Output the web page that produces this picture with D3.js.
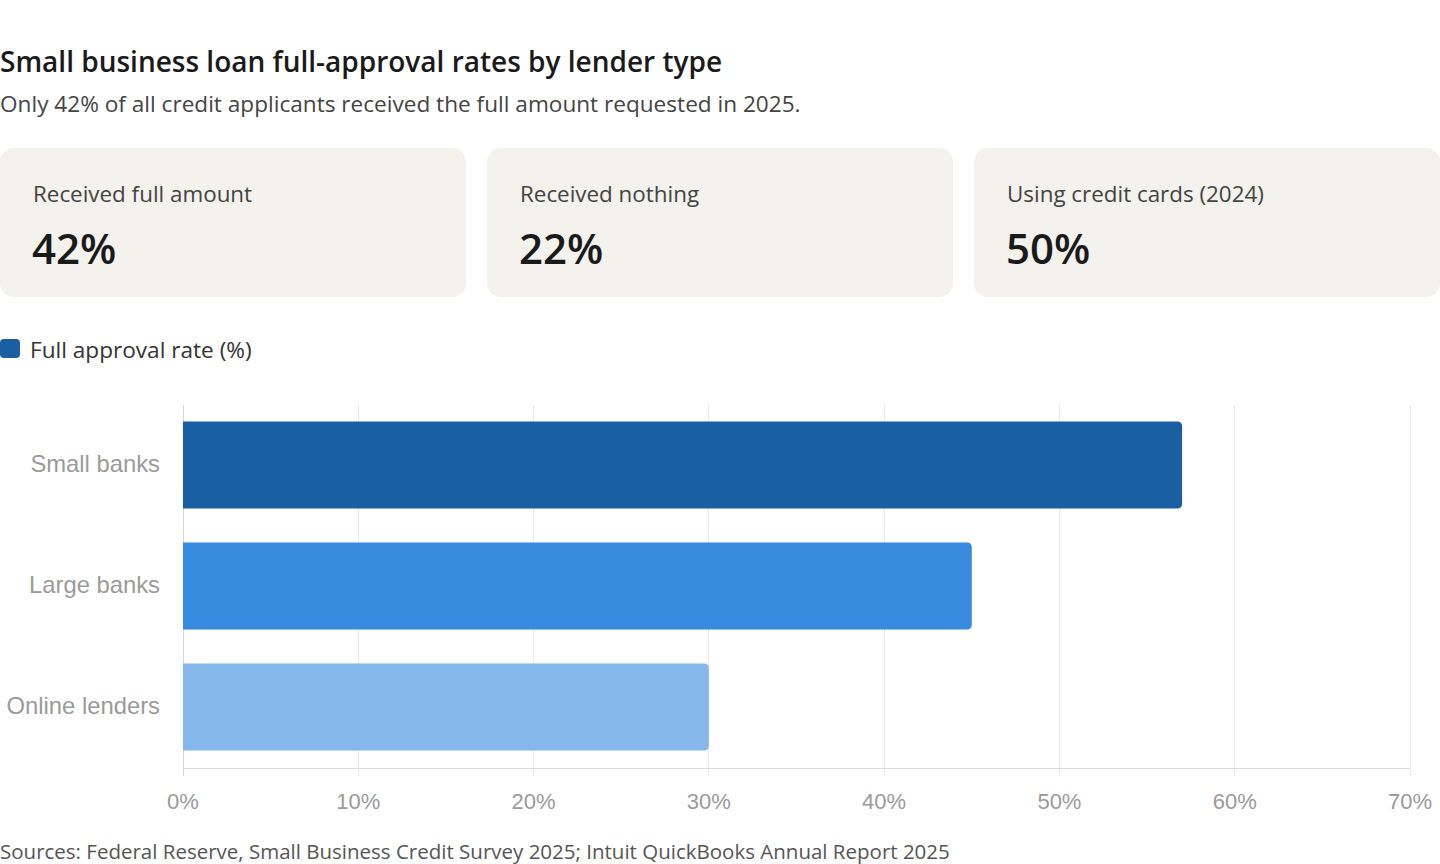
<!DOCTYPE html>
<html><head><meta charset="utf-8">
<script src="https://cdn.jsdelivr.net/npm/d3@7"></script>
<style>
html,body{margin:0;padding:0;background:#fff;}
svg{display:block;}
</style></head>
<body>
<svg id="chart" width="1440" height="864"></svg>
<script>
const categories = ["Small banks", "Large banks", "Online lenders"];
const values = [57, 45, 30];
const barColors = ["#1b5fa3", "#378ade", "#85b7eb"];
const xTicks = [0, 10, 20, 30, 40, 50, 60, 70];
const cardLabels = ["Received full amount", "Received nothing", "Using credit cards (2024)"];
const cardValues = ["42%", "22%", "50%"];
const title = "Small business loan full-approval rates by lender type";
const subtitle = "Only 42% of all credit applicants received the full amount requested in 2025.";
const legendLabel = "Full approval rate (%)";
const source = "Sources: Federal Reserve, Small Business Credit Survey 2025; Intuit QuickBooks Annual Report 2025";

const svg = d3.select("#chart");
const uiFont = "'Segoe UI','Open Sans','Noto Sans',sans-serif";
const axFont = "'Liberation Sans',Arial,sans-serif";

svg.append("text").attr("x", 0).attr("y", 72).text(title)
  .attr("font-family", uiFont).attr("font-size", 28).attr("font-weight", 600).attr("fill", "#1a1a1a");
svg.append("text").attr("x", 0).attr("y", 112).text(subtitle)
  .attr("font-family", uiFont).attr("font-size", 22.6).attr("fill", "#444");

// cards
const cw = 466, step = 487;
const cards = svg.selectAll("g.card").data(cardLabels).join("g")
  .attr("transform", (d, i) => `translate(${i * step},148)`);
cards.append("rect").attr("width", cw).attr("height", 149).attr("rx", 14)
  .attr("fill", "#f3f2ec");
cards.append("text").attr("x", 33).attr("y", 54).text(d => d)
  .attr("font-family", uiFont).attr("font-size", 22.4).attr("fill", "#444");
cards.append("text").attr("x", 32).attr("y", 116).text((d, i) => cardValues[i])
  .attr("font-family", uiFont).attr("font-size", 42).attr("font-weight", 600).attr("fill", "#1a1a1a");

// legend
svg.append("rect").attr("x", 0).attr("y", 339).attr("width", 20).attr("height", 19).attr("rx", 4)
  .attr("fill", barColors[0]);
svg.append("text").attr("x", 30).attr("y", 358).text(legendLabel)
  .attr("font-family", uiFont).attr("font-size", 22.6).attr("fill", "#333");

// chart
const x = d3.scaleLinear().domain([0, 70]).range([183, 1410]);
const y = d3.scaleBand().domain(categories).range([405, 768]).paddingInner(0.28).paddingOuter(0.14);

const grid = svg.append("g");
grid.selectAll("line").data(xTicks).join("line")
  .attr("x1", d => x(d)).attr("x2", d => x(d))
  .attr("y1", 405).attr("y2", 776)
  .attr("stroke", d => d === 0 ? "#d6d6d6" : "#e8e8e8").attr("stroke-width", 1)
  .attr("shape-rendering", "crispEdges");
svg.append("line").attr("x1", x(0)).attr("x2", x(70)).attr("y1", 768).attr("y2", 768)
  .attr("stroke", "#dcdcdc").attr("shape-rendering", "crispEdges");

svg.selectAll("text.xt").data(xTicks).join("text").attr("class", "xt")
  .attr("x", d => x(d)).attr("y", 809).attr("text-anchor", "middle")
  .text(d => d + "%")
  .attr("font-family", axFont).attr("font-size", 22).attr("fill", "#9a9a9a");

svg.selectAll("text.yt").data(categories).join("text").attr("class", "yt")
  .attr("x", 160).attr("y", d => y(d) + y.bandwidth() / 2 + 6.5).attr("text-anchor", "end")
  .text(d => d)
  .attr("font-family", axFont).attr("font-size", 23.8).attr("fill", "#9a9a9a");

// bars with rounded right end
const r = 5;
function barPath(x0, x1, y0, h) {
  return `M${x0},${y0}H${x1 - r}Q${x1},${y0} ${x1},${y0 + r}V${y0 + h - r}Q${x1},${y0 + h} ${x1 - r},${y0 + h}H${x0}Z`;
}
svg.selectAll("path.bar").data(values).join("path").attr("class", "bar")
  .attr("d", (d, i) => barPath(x(0), x(d), y(categories[i]) - 0.5, y.bandwidth()))
  .attr("fill", (d, i) => barColors[i]);

svg.append("text").attr("x", 0).attr("y", 859).text(source)
  .attr("font-family", uiFont).attr("font-size", 20.5).attr("fill", "#555");
</script>
</body></html>
